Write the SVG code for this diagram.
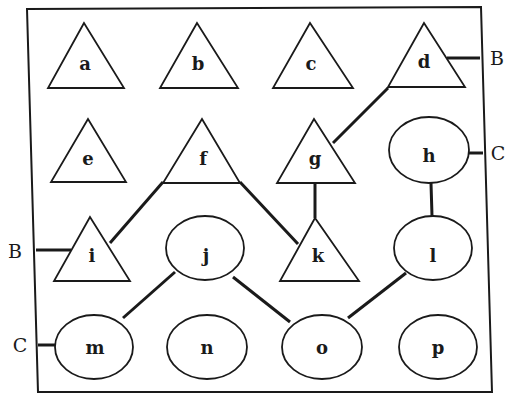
<svg xmlns="http://www.w3.org/2000/svg" width="507" height="394" viewBox="0 0 507 394">
<style>
.shape{fill:#fff;stroke:#1a1a1a;stroke-width:1.8}
.lbl{font-family:"DejaVu Serif","Liberation Serif",serif;font-size:18px;font-weight:bold;fill:#1a1a1a;text-anchor:middle}
.ext{font-family:"DejaVu Serif","Liberation Serif",serif;font-size:19px;fill:#1a1a1a;text-anchor:middle}
.con{stroke:#1a1a1a;stroke-width:3;fill:none}
</style>
<rect width="507" height="394" fill="#fff"/>
<polygon id="frame" points="27,9 481,7 492,392 38,392" fill="none" stroke="#1a1a1a" stroke-width="2"/>
<g id="connectors">
<line class="con" x1="447" y1="58" x2="480" y2="58"/>
<line class="con" x1="388" y1="88" x2="333" y2="143"/>
<line class="con" x1="469" y1="153" x2="483" y2="153"/>
<line class="con" x1="431" y1="183" x2="432" y2="216"/>
<line class="con" x1="315" y1="183" x2="315" y2="218"/>
<line class="con" x1="163" y1="182" x2="110" y2="243"/>
<line class="con" x1="240" y1="182" x2="298" y2="244"/>
<line class="con" x1="36" y1="250" x2="71" y2="250"/>
<line class="con" x1="175" y1="272" x2="123" y2="318"/>
<line class="con" x1="233" y1="277" x2="290" y2="322"/>
<line class="con" x1="406" y1="273" x2="348" y2="318"/>
<line class="con" x1="38" y1="345" x2="56" y2="345"/>
</g>
<g id="node-a"><polygon class="shape" points="84,23 48,88 124,88"/><text class="lbl" x="85" y="70">a</text></g>
<g id="node-b"><polygon class="shape" points="197,23 160,88 238,88"/><text class="lbl" x="198" y="70">b</text></g>
<g id="node-c"><polygon class="shape" points="310,23 273,88 353,88"/><text class="lbl" x="311" y="70">c</text></g>
<g id="node-d"><polygon class="shape" points="424,23 388,87 465,87"/><text class="lbl" x="424" y="68">d</text></g>
<g id="node-e"><polygon class="shape" points="88,119 51,182 126,182"/><text class="lbl" x="88" y="165">e</text></g>
<g id="node-f"><polygon class="shape" points="202,119 163,183 240,183"/><text class="lbl" x="203" y="165">f</text></g>
<g id="node-g"><polygon class="shape" points="314,119 277,183 355,183"/><text class="lbl" x="315" y="165">g</text></g>
<g id="node-h"><ellipse class="shape" cx="429" cy="150" rx="40" ry="33"/><text class="lbl" x="429" y="162">h</text></g>
<g id="node-i"><polygon class="shape" points="90,217 54,281 130,281"/><text class="lbl" x="92" y="262">i</text></g>
<g id="node-j"><ellipse class="shape" cx="205" cy="248" rx="39" ry="32"/><text class="lbl" x="206" y="262">j</text></g>
<g id="node-k"><polygon class="shape" points="315,218 280,281 359,281"/><text class="lbl" x="318" y="262">k</text></g>
<g id="node-l"><ellipse class="shape" cx="433" cy="248" rx="39" ry="32"/><text class="lbl" x="433" y="262">l</text></g>
<g id="node-m"><ellipse class="shape" cx="94" cy="347" rx="39" ry="32"/><text class="lbl" x="95" y="354">m</text></g>
<g id="node-n"><ellipse class="shape" cx="207" cy="347" rx="40" ry="32"/><text class="lbl" x="207" y="354">n</text></g>
<g id="node-o"><ellipse class="shape" cx="322" cy="347" rx="40" ry="32"/><text class="lbl" x="322" y="354">o</text></g>
<g id="node-p"><ellipse class="shape" cx="438" cy="347" rx="39" ry="32"/><text class="lbl" x="438" y="354">p</text></g>
<g id="ext-labels">
<text class="ext" x="497" y="65">B</text>
<text class="ext" x="498" y="160">C</text>
<text class="ext" x="15" y="258">B</text>
<text class="ext" x="20" y="352">C</text>
</g>
</svg>
